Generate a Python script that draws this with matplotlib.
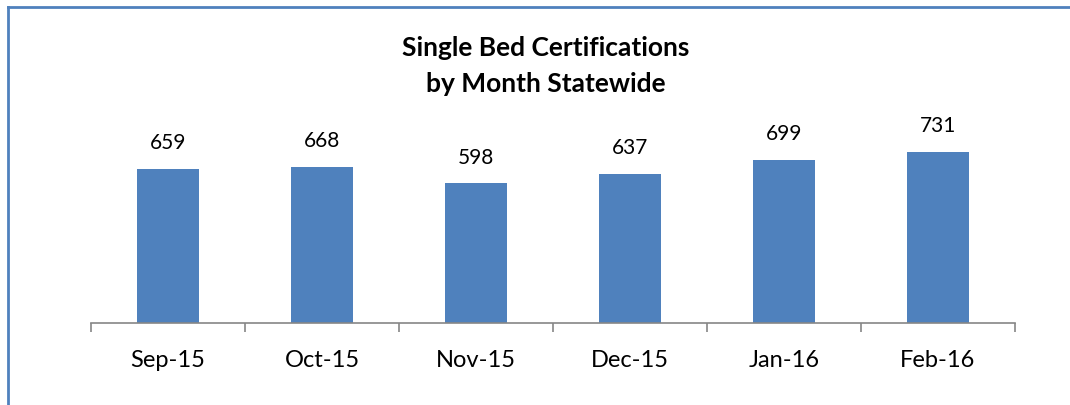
import matplotlib.pyplot as plt
from matplotlib.lines import Line2D

# monthly counts
months = ['Sep-15', 'Oct-15', 'Nov-15', 'Dec-15', 'Jan-16', 'Feb-16']
counts = [659, 668, 598, 637, 699, 731]

bar_color = '#4F81BD'
axis_color = '#868686'

plt.rcParams['font.family'] = ['Lato', 'DejaVu Sans']

fig = plt.figure(figsize=(10.7, 4.06), dpi=100)
ax = fig.add_axes([0.0850, 0.2020, 0.8636, 0.4606])

x = range(len(months))
bars = ax.bar(x, counts, width=0.4, color=bar_color)

# value labels above the bars
for xi, v in zip(x, counts):
    ax.annotate(str(v), (xi, v), xytext=(0, 12), textcoords='offset points',
                ha='center', va='bottom', fontsize=15)

ax.set_xlim(-0.5, len(months) - 0.5)
ax.set_ylim(0, 800)

# tick marks between categories, labels in the middle
ax.set_xticks([i - 0.5 for i in range(len(months) + 1)])
ax.set_xticklabels([])
ax.set_xticks(list(x), minor=True)
ax.set_xticklabels(months, minor=True, fontsize=17)
ax.tick_params(axis='x', which='major', length=6.5, width=1.2, color=axis_color, direction='out')
ax.tick_params(axis='x', which='minor', length=0, pad=19)
ax.set_yticks([])

for s in ['top', 'right', 'left']:
    ax.spines[s].set_visible(False)
ax.spines['bottom'].set_color(axis_color)
ax.spines['bottom'].set_linewidth(1.2)

fig.text(0.510, 0.838, 'Single Bed Certifications\nby Month Statewide', ha='center',
         va='center', fontsize=19, fontweight='bold', linespacing=1.6)

# chart frame (left and top edges visible)
fig.add_artist(Line2D([0.0075, 0.0075], [0, 0.98], transform=fig.transFigure,
                      color=bar_color, lw=2))
fig.add_artist(Line2D([0.0075, 1.0], [0.98, 0.98], transform=fig.transFigure,
                      color=bar_color, lw=2))

fig.savefig('out.png', dpi=100)
